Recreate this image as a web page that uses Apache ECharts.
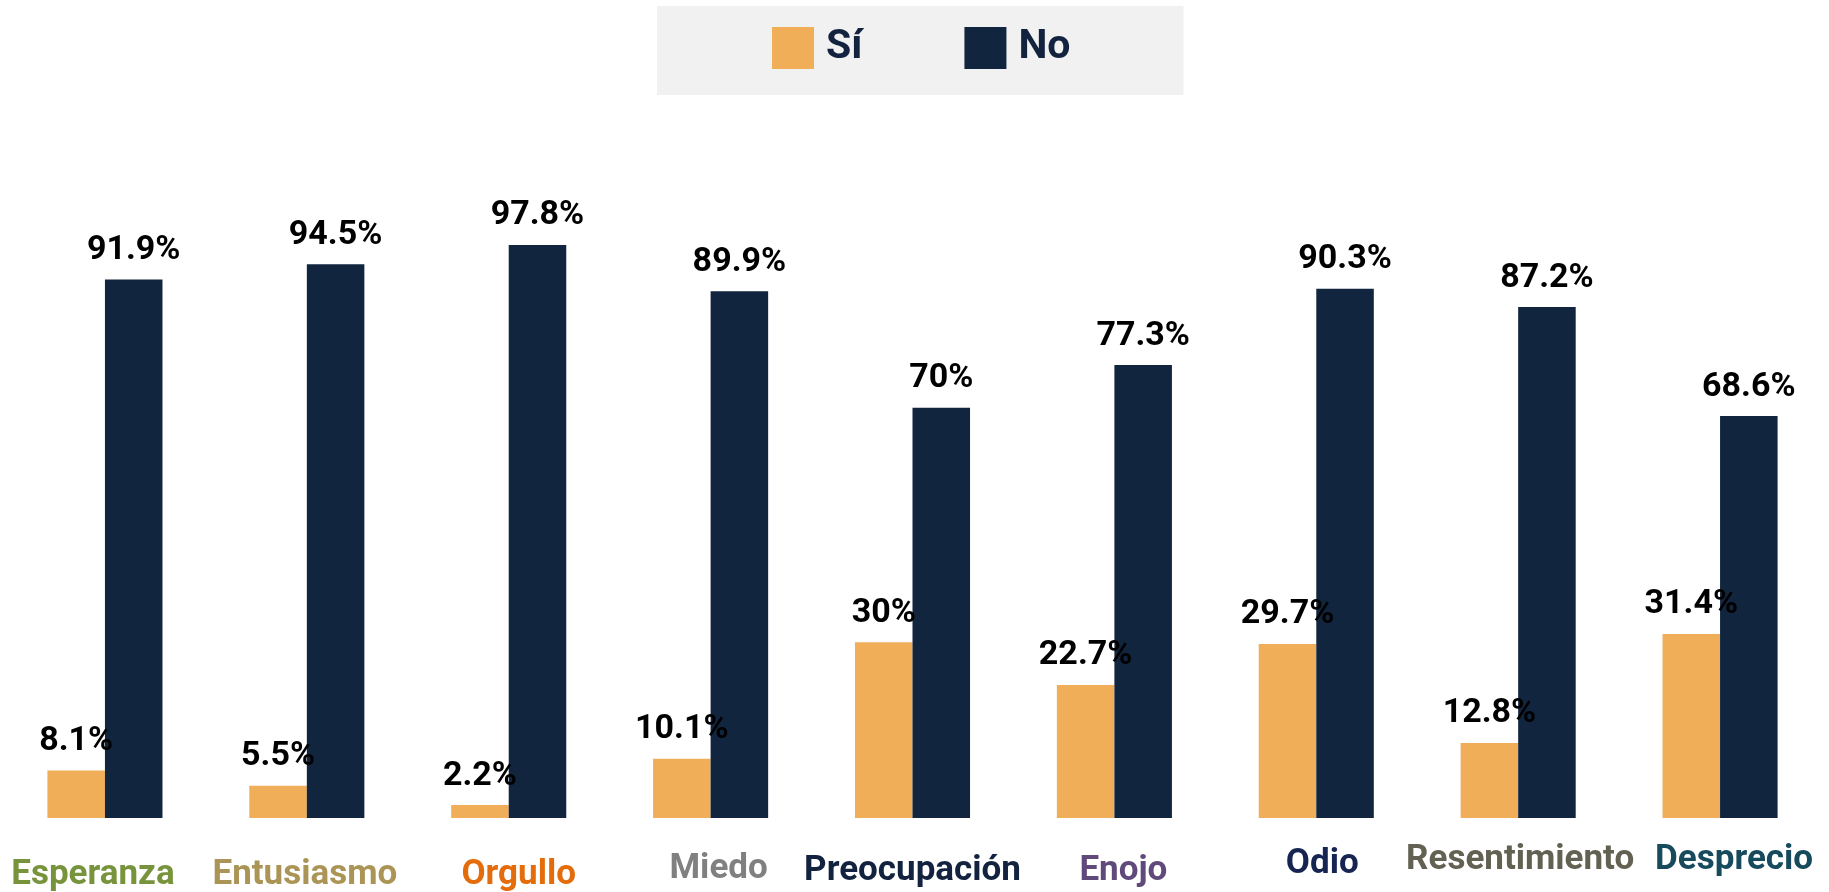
<!DOCTYPE html>
<html>
<head>
	<meta charset="utf-8">
	<title>Emociones</title>
	<style type="text/css">
		*{ padding: 0; margin: 0; }
		body{ background: #fff; }
		#chart{ width: 1829px; height: 892px; }
	</style>
</head>
<body>
	<div id="chart"></div>

<script type="text/javascript" src="https://cdn.jsdelivr.net/npm/echarts@6/dist/echarts.min.js"></script>
<script type="text/javascript">
	// datos
	var categories = ['Esperanza', 'Entusiasmo', 'Orgullo', 'Miedo', 'Preocupación', 'Enojo', 'Odio', 'Resentimiento', 'Desprecio'];
	var si = [8.1, 5.5, 2.2, 10.1, 30, 22.7, 29.7, 12.8, 31.4];
	var no = [91.9, 94.5, 97.8, 89.9, 70, 77.3, 90.3, 87.2, 68.6];

	// estilo de las etiquetas del eje x
	var labelColors = ['#77933c', '#ab9556', '#e46c0a', '#808080', '#13233f', '#604a7b', '#152451', '#636152', '#164a5c'];
	var labelDy = [15, 15, 15, 9, 11, 11, 4, 0, 0];
	var labelDx = [-12, -2, 10, 8, 0, 9, 6, 2, 14];

	var font = '"Liberation Sans Narrow", "Arial Narrow", "Roboto", sans-serif';

	var rich = {};
	categories.forEach(function(c, i) {
		var dx = labelDx[i];
		rich['l' + i] = {
			color: labelColors[i],
			fontSize: 35,
			fontWeight: 'bold',
			fontFamily: font,
			padding: [labelDy[i], dx < 0 ? -2 * dx : 0, 0, dx > 0 ? 2 * dx : 0]
		};
	});

	var chart = echarts.init(document.getElementById('chart'));
	var option = {
		animation: false,
		legend: {
			left: 657,
			top: 6,
			padding: [21, 113, 26, 115],
			backgroundColor: '#f1f1f1',
			itemWidth: 42,
			itemHeight: 42,
			itemGap: 102,
			icon: 'rect',
			textStyle: {
				color: '#13233f',
				fontSize: 41,
				fontWeight: 'bold',
				fontFamily: font,
				lineHeight: 42,
				padding: [0, 0, 0, 7]
			},
			data: ['Sí', 'No']
		},
		grid: {
			top: 232,
			left: 4,
			right: 8,
			bottom: 74,
			containLabel: false,
			outerBoundsMode: 'none'
		},
		xAxis: {
			type: 'category',
			data: categories,
			axisLine: { show: false },
			axisTick: { show: false },
			axisLabel: {
				margin: 25,
				interval: 0,
				formatter: function(v, i) {
					return '{l' + i + '|' + v + '}';
				},
				rich: rich
			}
		},
		yAxis: {
			type: 'value',
			min: 0,
			max: 100,
			show: false,
			splitLine: { show: false }
		},
		series: [{
			type: 'bar',
			name: 'Sí',
			data: si,
			barGap: '0%',
			barCategoryGap: '43%',
			itemStyle: { color: '#f0ae59' },
			label: {
				show: true,
				position: 'top',
				distance: 12,
				color: '#000',
				fontSize: 34,
				fontWeight: 'bold',
				fontFamily: font,
				formatter: '{c}%'
			}
		}, {
			type: 'bar',
			name: 'No',
			data: no,
			barGap: '0%',
			barCategoryGap: '43%',
			itemStyle: { color: '#12253f' },
			label: {
				show: true,
				position: 'top',
				distance: 12,
				color: '#000',
				fontSize: 34,
				fontWeight: 'bold',
				fontFamily: font,
				formatter: '{c}%'
			}
		}]
	};
	chart.setOption(option);
</script>
</body>
</html>
